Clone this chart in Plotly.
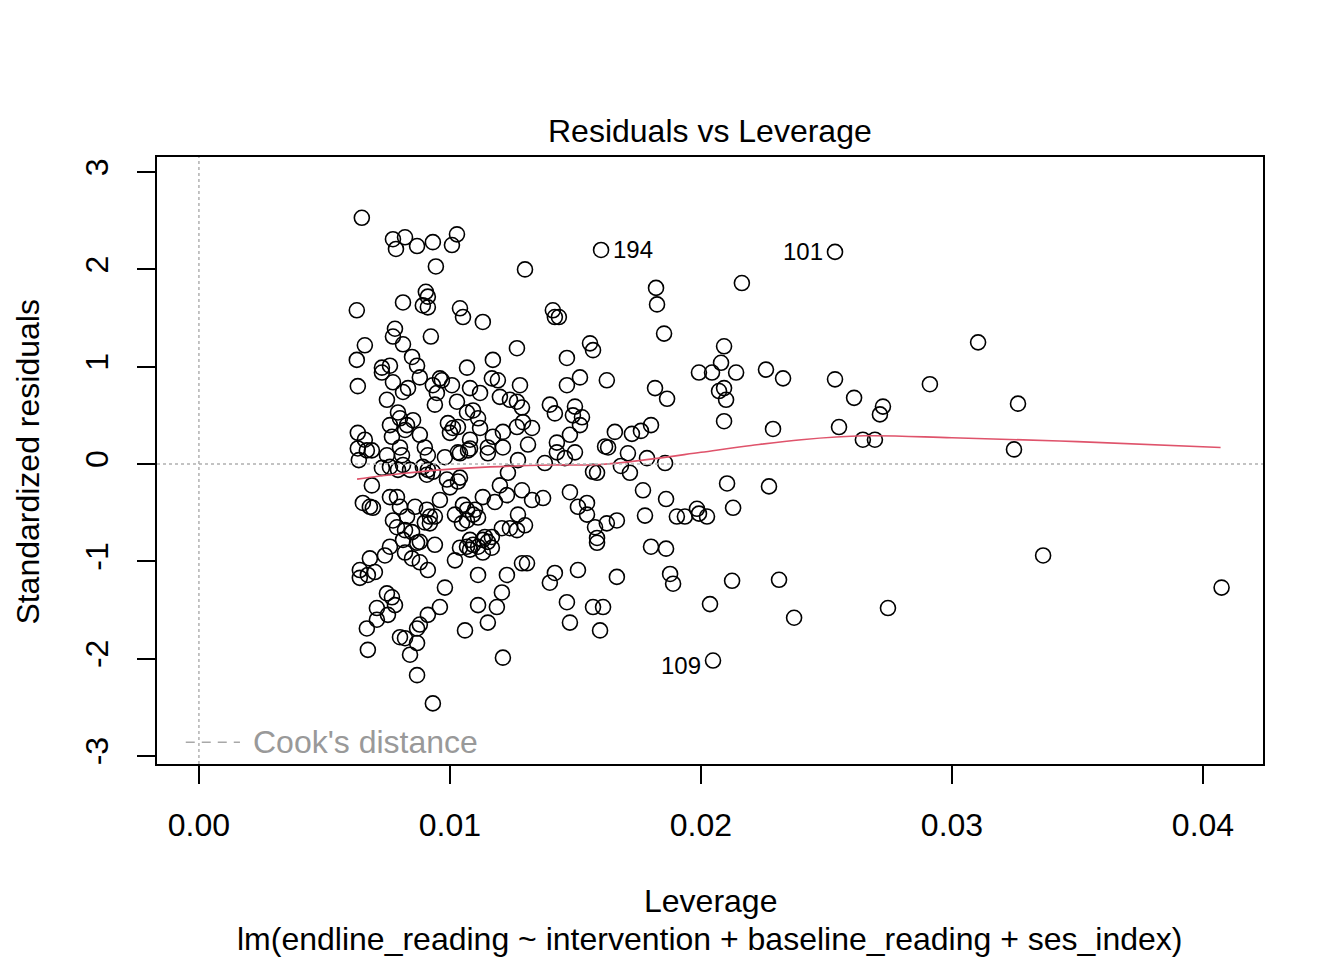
import plotly.graph_objects as go

# leverage / standardized residual pairs
leverage = [
    0.00649, 0.00773, 0.00821, 0.00785, 0.00869, 0.00932, 0.01028, 0.01008, 0.00944, 0.01299,
    0.01602, 0.02534, 0.02163, 0.01821, 0.01825, 0.01853, 0.00904, 0.00912, 0.00892, 0.00912,
    0.00813, 0.00629, 0.01040, 0.01052, 0.01131, 0.01410, 0.01418, 0.01434, 0.00781, 0.00773,
    0.00813, 0.00924, 0.00661, 0.01267, 0.01171, 0.01558, 0.01570, 0.01466, 0.00629, 0.00849,
    0.00869, 0.00729, 0.00761, 0.00729, 0.00880, 0.01068, 0.00960, 0.00633, 0.00773, 0.00813,
    0.00833, 0.00932, 0.00948, 0.00940, 0.00968, 0.01008, 0.01080, 0.01120, 0.01167, 0.01191,
    0.01279, 0.01518, 0.01466, 0.01625, 0.00749, 0.00793, 0.00801, 0.00829, 0.00853, 0.00761,
    0.00769, 0.00821, 0.00801, 0.00880, 0.00900, 0.00912, 0.00992, 0.01012, 0.01032, 0.01000,
    0.01028, 0.01068, 0.01092, 0.01112, 0.01120, 0.01199, 0.01239, 0.01267, 0.01287, 0.01291,
    0.01267, 0.01327, 0.01211, 0.01171, 0.01080, 0.01080, 0.01151, 0.01151, 0.01211, 0.01311,
    0.01040, 0.00980, 0.01271, 0.01398, 0.01418, 0.01498, 0.01490, 0.01526, 0.01518, 0.01478,
    0.01426, 0.01426, 0.01498, 0.01458, 0.01618, 0.01630, 0.01657, 0.01725, 0.01761, 0.01801,
    0.01378, 0.01231, 0.01040, 0.01570, 0.01586, 0.01681, 0.01709, 0.01785, 0.01857, 0.01717,
    0.01817, 0.01865, 0.02092, 0.02080, 0.01992, 0.02044, 0.02140, 0.02259, 0.02327, 0.02072,
    0.02092, 0.02100, 0.02092, 0.02287, 0.02534, 0.02610, 0.02550, 0.02645, 0.02693, 0.02713,
    0.02725, 0.02912, 0.03104, 0.03263, 0.03247, 0.00633, 0.00661, 0.00633, 0.00637, 0.00669,
    0.00689, 0.00749, 0.00809, 0.00813, 0.00729, 0.00761, 0.00793, 0.00841, 0.00892, 0.00912,
    0.00932, 0.00908, 0.01032, 0.01072, 0.00689, 0.00653, 0.00681, 0.00693, 0.00761, 0.00789,
    0.00801, 0.00829, 0.00773, 0.00789, 0.00821, 0.00849, 0.00861, 0.00908, 0.00920, 0.00940,
    0.00920, 0.00960, 0.00900, 0.01000, 0.01032, 0.00988, 0.01020, 0.01052, 0.01068, 0.01100,
    0.01048, 0.01112, 0.01131, 0.01139, 0.01151, 0.01068, 0.01112, 0.00940, 0.00880, 0.00813,
    0.00761, 0.01199, 0.01227, 0.01287, 0.01327, 0.01371, 0.01179, 0.01092, 0.01068, 0.01271,
    0.01478, 0.01510, 0.01546, 0.01546, 0.01578, 0.01625, 0.01665, 0.01586, 0.01586, 0.01207,
    0.01239, 0.01267, 0.01299, 0.01167, 0.01131, 0.01080, 0.01040, 0.01080, 0.01131, 0.01167,
    0.01020, 0.01287, 0.01307, 0.01112, 0.01227, 0.01418, 0.01398, 0.01510, 0.01665, 0.00980,
    0.01207, 0.01112, 0.01187, 0.00960, 0.01466, 0.01570, 0.01610, 0.01151, 0.01478, 0.01060,
    0.01598, 0.01211, 0.00681, 0.00741, 0.00641, 0.00641, 0.00673, 0.00701, 0.00821, 0.00849,
    0.00880, 0.00912, 0.00869, 0.01092, 0.00749, 0.00769, 0.00781, 0.00709, 0.00753, 0.00709,
    0.00669, 0.00912, 0.00880, 0.00869, 0.00801, 0.00821, 0.00869, 0.00841, 0.00673, 0.00869,
    0.00932, 0.01769, 0.01861, 0.02104, 0.02271, 0.02128, 0.01777, 0.01904, 0.01936, 0.01984,
    0.01992, 0.02024, 0.01801, 0.01861, 0.01877, 0.01889, 0.02124, 0.02311, 0.02036, 0.02371,
    0.02745, 0.03363, 0.04074, 0.02048,
]
std_resid = [
    2.53, 2.31, 2.33, 2.21, 2.24, 2.28, 2.36, 2.25, 2.03, 2.00,
    2.20, 2.18, 1.86, 1.81, 1.64, 1.34, 1.77, 1.72, 1.63, 1.61,
    1.66, 1.58, 1.60, 1.51, 1.46, 1.58, 1.51, 1.51, 1.39, 1.31,
    1.23, 1.31, 1.22, 1.19, 1.07, 1.24, 1.17, 1.09, 1.07, 1.10,
    1.01, 0.99, 1.01, 0.94, 0.89, 0.99, 0.88, 0.80, 0.84, 0.74,
    0.78, 0.81, 0.73, 0.61, 0.86, 0.81, 0.78, 0.73, 0.88, 0.86,
    0.81, 0.89, 0.81, 0.86, 0.66, 0.53, 0.47, 0.40, 0.45, 0.40,
    0.28, 0.35, 0.17, 0.30, 0.17, 0.09, 0.42, 0.37, 0.38, 0.32,
    0.64, 0.53, 0.55, 0.47, 0.37, 0.69, 0.66, 0.64, 0.58, 0.43,
    0.38, 0.37, 0.33, 0.28, 0.25, 0.16, 0.17, 0.11, 0.17, 0.20,
    0.11, 0.07, 0.04, 0.61, 0.52, 0.59, 0.50, 0.48, 0.40, 0.30,
    0.22, 0.12, 0.12, 0.06, 0.18, 0.17, 0.33, 0.31, 0.34, 0.40,
    0.01, -0.09, -0.14, -0.08, -0.09, -0.02, 0.11, 0.06, 0.01, -0.09,
    0.78, 0.67, 1.21, 1.04, 0.94, 0.94, 0.94, 0.97, 0.88, 0.75,
    0.78, 0.66, 0.44, 0.36, 0.87, 0.68, 0.38, 0.25, 0.25, 0.51,
    0.59, 0.82, 1.25, 0.62, 0.15, 0.32, 0.25, 0.16, 0.04, 0.14,
    0.14, 0.09, 0.09, -0.01, -0.04, -0.03, -0.06, -0.06, -0.03, -0.06,
    -0.08, -0.11, 0.12, 0.14, -0.22, -0.40, -0.44, -0.45, -0.34, -0.34,
    -0.44, -0.54, -0.58, -0.65, -0.68, -0.70, -0.44, -0.47, -0.54, -0.54,
    -0.61, -0.37, -0.60, -0.24, -0.18, -0.16, -0.52, -0.42, -0.47, -0.47,
    -0.61, -0.55, -0.34, -0.75, -0.80, -0.85, -0.85, -0.83, -0.80, -0.78,
    -0.85, -0.22, -0.32, -0.27, -0.37, -0.35, -0.39, -0.52, -0.58, -0.52,
    -0.29, -0.44, -0.40, -0.52, -0.65, -0.61, -0.58, -0.76, -0.81, -0.66,
    -0.66, -0.68, -0.63, -0.75, -0.78, -0.78, -0.86, -0.88, -0.91, -0.86,
    -0.99, -1.02, -1.02, -1.14, -1.14, -1.12, -1.22, -1.09, -1.16, -1.27,
    -1.32, -1.45, -1.47, -1.47, -1.42, -1.47, -1.47, -1.63, -1.63, -1.71,
    -1.71, -1.99, -0.97, -0.94, -1.09, -1.17, -1.14, -1.11, -0.91, -0.97,
    -1.01, -1.09, -0.81, -0.83, -1.33, -1.37, -1.45, -1.48, -1.55, -1.60,
    -1.69, -1.55, -1.65, -1.69, -1.78, -1.79, -1.84, -1.96, -1.91, -2.17,
    -2.46, -0.27, -0.36, -0.20, -0.23, -0.45, -0.53, -0.54, -0.54, -0.46,
    -0.51, -0.54, -0.85, -0.87, -1.13, -1.23, -1.20, -1.19, -1.44, -1.58,
    -1.48, -0.94, -1.27, -2.02,
]

# labelled observations
label_ids = ["194", "101", "109"]
label_lev = [0.01602, 0.02534, 0.02048]
label_res = [2.20, 2.18, -2.02]
label_side = ["right", "left", "left"]

# smoother (red line)
smooth_lev = [0.0063, 0.0080, 0.0096, 0.0116, 0.0140, 0.0160, 0.0180, 0.0200, 0.0220,
              0.0240, 0.0265, 0.0300, 0.0350, 0.0407]
smooth_res = [-0.155, -0.10, -0.06, -0.03, -0.01, -0.005, 0.05, 0.12, 0.19,
              0.25, 0.29, 0.27, 0.23, 0.17]

x_ticks = [0.00, 0.01, 0.02, 0.03, 0.04]
x_tick_text = ["0.00", "0.01", "0.02", "0.03", "0.04"]
y_ticks = [-3, -2, -1, 0, 1, 2, 3]
y_tick_text = ["-3", "-2", "-1", "0", "1", "2", "3"]

FONT = "Liberation Sans, Arial, Helvetica, sans-serif"
FS = 32

fig = go.Figure()

# reference lines
fig.add_hline(y=0, line=dict(color="#b0b0b0", width=1.5, dash="dot"))
fig.add_vline(x=0, line=dict(color="#b0b0b0", width=1.5, dash="dot"))

fig.add_trace(go.Scatter(
    x=leverage, y=std_resid, mode="markers",
    marker=dict(symbol="circle-open", size=15, color="black", line=dict(width=1.6)),
    showlegend=False, hoverinfo="x+y",
))

fig.add_trace(go.Scatter(
    x=smooth_lev, y=smooth_res, mode="lines", line_shape="spline",
    line=dict(color="#DF536B", width=1.6), showlegend=False,
))

for lid, lx, ly, side in zip(label_ids, label_lev, label_res, label_side):
    fig.add_annotation(
        x=lx, y=ly, text=lid, showarrow=False,
        xanchor="left" if side == "right" else "right", yanchor="middle",
        xshift=10 if side == "right" else -10, yshift=0 if ly > 0 else -5,
        font=dict(family=FONT, size=24, color="black"),
    )

# Cook's distance legend (bottom left)
fig.add_shape(type="line", xref="paper", yref="paper",
              x0=0.026, x1=0.075, y0=0.036, y1=0.036,
              line=dict(color="#a8a8a8", width=1.5, dash="9px,7px"))
fig.add_annotation(text="Cook's distance", xref="paper", yref="paper",
                   x=0.085, y=0.036, xanchor="left", yanchor="middle", showarrow=False,
                   font=dict(family=FONT, size=FS, color="#999999"))

# titles
fig.add_annotation(text="Residuals vs Leverage", xref="paper", yref="paper",
                   x=0.5, y=1.043, xanchor="center", yanchor="middle", showarrow=False,
                   font=dict(family=FONT, size=FS, color="black"))
fig.add_annotation(text="Leverage", xref="paper", yref="paper",
                   x=0.5, y=-0.226, xanchor="center", yanchor="middle", showarrow=False,
                   font=dict(family=FONT, size=FS, color="black"))
fig.add_annotation(text="lm(endline_reading ~ intervention + baseline_reading + ses_index)",
                   xref="paper", yref="paper",
                   x=0.5, y=-0.288, xanchor="center", yanchor="middle", showarrow=False,
                   font=dict(family=FONT, size=FS, color="black"))
fig.add_annotation(text="Standardized residuals", xref="paper", yref="paper",
                   x=-0.117, y=0.4975, xanchor="center", yanchor="middle", showarrow=False,
                   textangle=-90, font=dict(family=FONT, size=FS, color="black"))

# page body adds an 8px margin, so the figure is 8px smaller and left/top margins shifted
fig.update_layout(
    width=1336, height=952,
    margin=dict(l=149, r=81, t=149, b=196),
    paper_bgcolor="white", plot_bgcolor="white",
    font=dict(family=FONT, size=FS, color="black"),
    xaxis=dict(range=[-0.00167, 0.04239], tickvals=x_ticks, ticktext=x_tick_text,
               showgrid=False, zeroline=False, showline=True, mirror=True,
               linecolor="black", linewidth=1.5, ticks="outside", ticklen=18,
               tickwidth=1.5, tickcolor="black", ticklabelstandoff=14),
    yaxis=dict(range=[-3.083, 3.155], tickvals=y_ticks, ticktext=y_tick_text,
               showgrid=False, zeroline=False, showline=True, mirror=True,
               linecolor="black", linewidth=1.5, ticks="outside", ticklen=18,
               tickwidth=1.5, tickcolor="black", tickangle=-90, ticklabelstandoff=16),
)

fig.write_html("out.html")
